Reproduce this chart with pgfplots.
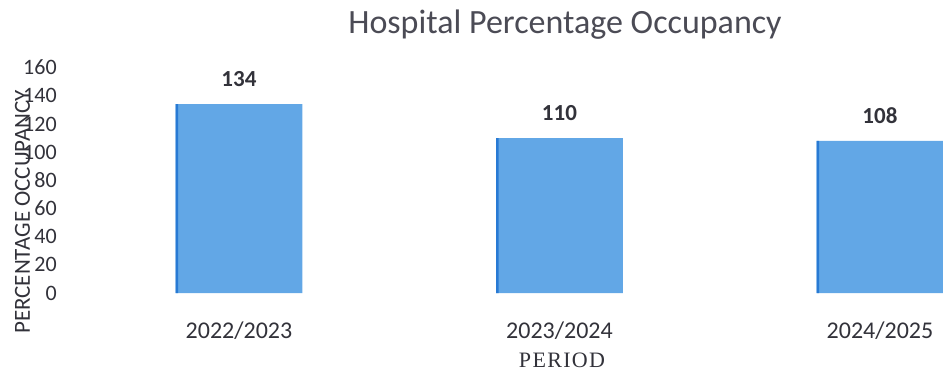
\documentclass[border=0pt]{standalone}
\usepackage{pgfplots}
\pgfplotsset{compat=1.18}
\usepackage{fontspec}
\setmainfont{Carlito}
\newfontfamily\serifx[LetterSpace=6]{Liberation Serif}
\definecolor{barblue}{RGB}{98,167,230}
\definecolor{edgeblue}{RGB}{40,122,212}
\definecolor{txt}{RGB}{50,50,58}
\definecolor{ttl}{RGB}{75,75,85}
\begin{document}
\begin{tikzpicture}
\useasboundingbox (0pt,0pt) rectangle (471.5pt,185.5pt);
\begin{axis}[
  at={(31.35pt,39pt)}, anchor=south west,
  scale only axis, width=448.7pt, height=112.7pt,
  xmin=-0.55, xmax=2.25, ymin=0, ymax=160,
  axis line style={draw=none}, tick style={draw=none},
  ytick={0,20,...,160},
  xtick={0,1,2}, xticklabels={2022/2023,2023/2024,2024/2025},
  /pgf/number format/assume math mode=true,
  yticklabel style={font=\fontsize{11}{12}\selectfont, text=txt, anchor=east, inner sep=0pt, xshift=-2.8pt},
  xticklabel style={font=\fontsize{12}{14}\selectfont, text=txt, anchor=north, inner sep=0pt, yshift=-10pt},
  ybar, bar width=0.395,
  clip=false,
]
\addplot[fill=barblue, draw=none, bar shift=0pt,
  nodes near coords,
  nodes near coords style={font=\bfseries\fontsize{11.5}{13}\selectfont, text=txt, anchor=south, inner sep=0pt, yshift=8.5pt}]
  coordinates {(0,134) (1,110) (2,108)};
\addplot[fill=edgeblue, draw=none, bar width=0.008, bar shift=-0.1935]
  coordinates {(0,134) (1,110) (2,108)};
\end{axis}
\node[rotate=90, text=txt, font=\fontsize{11.5}{14}\selectfont] at (11.25pt,79.5pt) {PERCENTAGE OCCUPANCY};
\node[text=txt, font=\serifx\fontsize{11}{13}\selectfont] at (281pt,5.5pt) {PERIOD};
\node[anchor=base, text=ttl, font=\fontsize{17}{20}\selectfont] at (282.5pt,169pt) {Hospital Percentage Occupancy};
\end{tikzpicture}
\end{document}
